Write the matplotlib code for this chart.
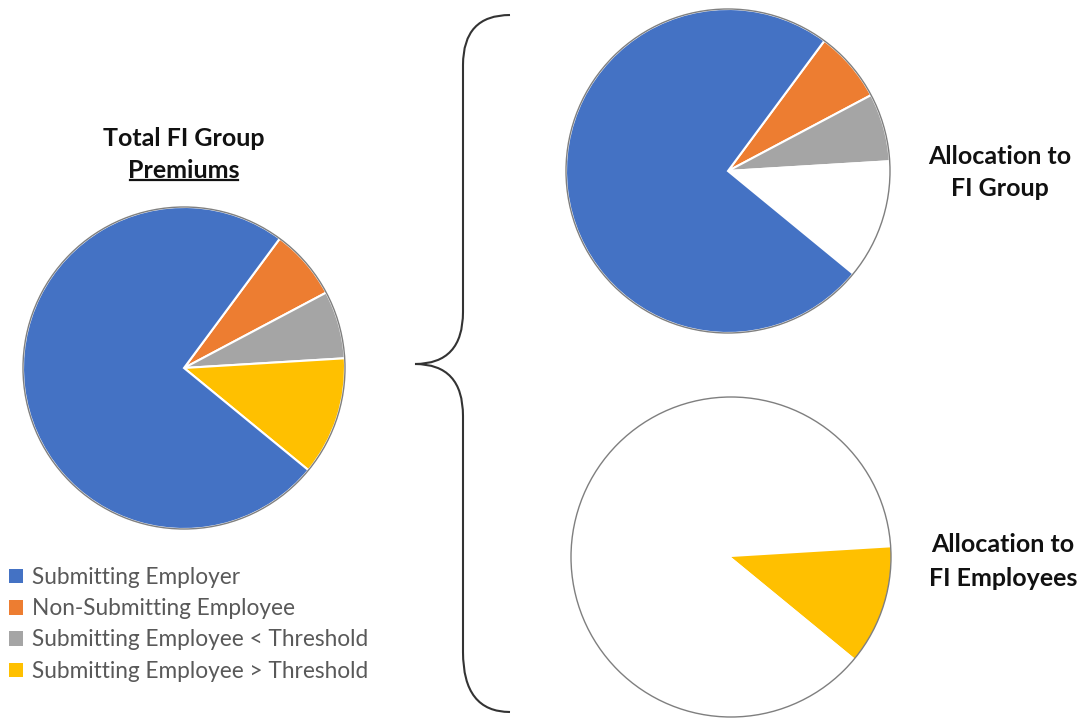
import matplotlib.pyplot as plt
from matplotlib.patches import Circle, PathPatch
from matplotlib.path import Path

plt.rcParams['font.family'] = ['Lato', 'DejaVu Sans']

# data
labels = ["Submitting Employer", "Non-Submitting Employee",
          "Submitting Employee < Threshold", "Submitting Employee > Threshold"]
shares = [74.2, 7.1, 6.8, 11.9]   # % of total FI group premiums
colors = ["#4472C4", "#ED7D31", "#A5A5A5", "#FFC000"]

group_colors = ["#4472C4", "#ED7D31", "#A5A5A5", "white"]   # employees part left out
employee_colors = ["white", "white", "white", "#FFC000"]    # only > threshold part

W, H = 1091, 721
fig = plt.figure(figsize=(W / 100, H / 100), dpi=100)
ax = fig.add_axes([0, 0, 1, 1])
ax.set_xlim(0, W)
ax.set_ylim(0, H)
ax.set_aspect('equal')
ax.axis('off')

# pie order: start at the orange slice and go clockwise
order = [1, 2, 3, 0]


def draw_pie(cx, cy, r, cols, edge='white', lw=1.5):
    vals = [shares[i] for i in order]
    cc = [cols[i] for i in order]
    wedges, _ = ax.pie(vals, colors=cc, center=(cx, H - cy), radius=r,
                       startangle=53.5, counterclock=False,
                       wedgeprops=dict(edgecolor=edge, linewidth=lw))
    ax.add_patch(Circle((cx, H - cy), r, fill=False, edgecolor='#7f7f7f', lw=1))
    return wedges


w_left = draw_pie(184, 368, 161, colors)
draw_pie(728, 171, 162, group_colors)
draw_pie(731, 557, 160, employee_colors, edge='none', lw=0)

ax.set_xlim(0, W)
ax.set_ylim(0, H)

# titles
tf = dict(fontsize=18, fontweight='bold', color='#111111', ha='center', va='center')
ax.text(184, H - 138, "Total FI Group", **tf)
prem = ax.text(184, H - 170, "Premiums", **tf)
ax.text(1000, H - 157, "Allocation to", **tf)
ax.text(1000, H - 189, "FI Group", **tf)
ax.text(1003, H - 545, "Allocation to", **tf)
ax.text(1003, H - 578, "FI Employees", **tf)

# underline for "Premiums"
fig.canvas.draw()
bb = prem.get_window_extent().transformed(ax.transData.inverted())
ax.plot([bb.x0 + 2, bb.x1 - 2], [bb.y0 + 2, bb.y0 + 2], color='#111111', lw=1.6)

# curly bracket
verts = [(510, 15), (463, 15), (463, 65),
         (463, 312),
         (463, 364), (415, 364),
         (463, 364), (463, 416),
         (463, 652),
         (463, 712), (510, 712)]
codes = [Path.MOVETO, Path.CURVE3, Path.CURVE3,
         Path.LINETO,
         Path.CURVE3, Path.CURVE3,
         Path.CURVE3, Path.CURVE3,
         Path.LINETO,
         Path.CURVE3, Path.CURVE3]
verts = [(x, H - y) for x, y in verts]
ax.add_patch(PathPatch(Path(verts, codes), fill=False, edgecolor='#333333', lw=1.5))

# legend
handles = [w_left[order.index(i)] for i in range(4)]
leg = ax.legend(handles, labels, loc='upper left', bbox_to_anchor=(0.0, 0.226),
                frameon=False, fontsize=16.3, handlelength=0.6, handleheight=0.6,
                handletextpad=0.4, labelspacing=0.45, labelcolor='#595959',
                borderaxespad=0)
for h in leg.legend_handles:
    h.set_edgecolor('none')

fig.savefig("out.png", dpi=100)
